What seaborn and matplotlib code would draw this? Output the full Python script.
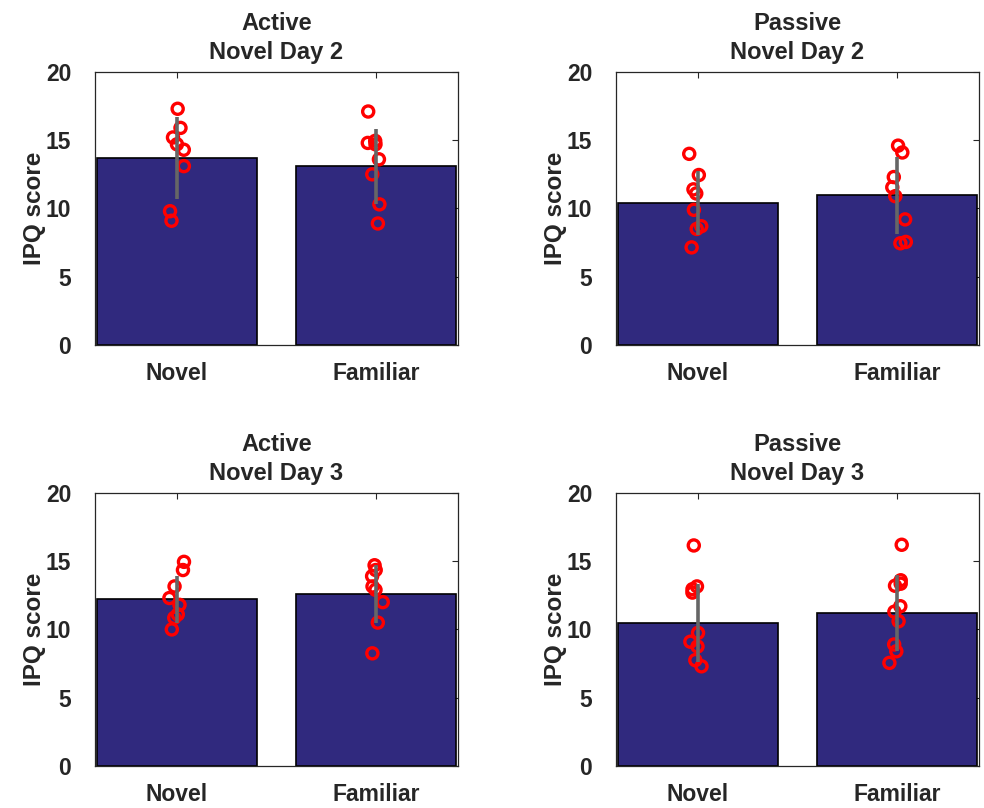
"""
IPQ scores per condition: bar = mean, grey line = SD, red circles = subjects
"""

import numpy as np
import pandas as pd
import matplotlib
matplotlib.use("Agg")
import matplotlib.pyplot as plt
import seaborn as sns

# Data
groups = ['Novel', 'Familiar']

active_day2_novel = [17.3, 15.9, 15.2, 14.7, 14.3, 13.1, 9.8, 9.1]
active_day2_familiar = [17.1, 14.95, 14.8, 14.7, 13.6, 12.5, 10.3, 8.9]
active_day2_mean = [13.7, 13.1]
active_day2_sd = [3.0, 2.75]

passive_day2_novel = [14.0, 12.45, 11.4, 11.1, 9.9, 8.7, 8.5, 7.15]
passive_day2_familiar = [14.6, 14.1, 12.3, 11.55, 10.9, 9.2, 7.55, 7.45]
passive_day2_mean = [10.4, 10.95]
passive_day2_sd = [2.35, 2.85]

active_day3_novel = [14.95, 14.35, 13.15, 12.3, 11.8, 11.1, 10.85, 10.0]
active_day3_familiar = [14.7, 14.35, 13.9, 13.15, 12.9, 12.0, 10.5, 8.25]
active_day3_mean = [12.2, 12.6]
active_day3_sd = [1.7, 2.15]

passive_day3_novel = [16.15, 13.15, 12.95, 12.7, 9.75, 9.1, 8.75, 7.75, 7.3]
passive_day3_familiar = [16.2, 13.6, 13.35, 13.2, 11.7, 11.3, 10.6, 8.9, 8.4, 7.55]
passive_day3_mean = [10.45, 11.2]
passive_day3_sd = [2.85, 2.75]

panels = [
    ('Active\nNovel Day 2', active_day2_novel, active_day2_familiar, active_day2_mean, active_day2_sd),
    ('Passive\nNovel Day 2', passive_day2_novel, passive_day2_familiar, passive_day2_mean, passive_day2_sd),
    ('Active\nNovel Day 3', active_day3_novel, active_day3_familiar, active_day3_mean, active_day3_sd),
    ('Passive\nNovel Day 3', passive_day3_novel, passive_day3_familiar, passive_day3_mean, passive_day3_sd),
]

# Style
sns.set_style("white")
plt.rcParams['font.family'] = ['Liberation Sans', 'DejaVu Sans']
plt.rcParams['font.weight'] = 'bold'
plt.rcParams['font.size'] = 16

BAR_COLOR = '#30297e'
SPINE_COLOR = '#262626'

fig = plt.figure(figsize=(9.84, 8.08), dpi=100)

# axes boxes in figure fraction: left, bottom, width, height
boxes = [
    (0.0965, 0.573, 0.369, 0.338),
    (0.626, 0.573, 0.369, 0.338),
    (0.0965, 0.052, 0.369, 0.338),
    (0.626, 0.052, 0.369, 0.338),
]

np.random.seed(3)

for box, (title, novel, familiar, means, sds) in zip(boxes, panels):
    ax = fig.add_axes(box)

    bar_df = pd.DataFrame({'Condition': groups, 'IPQ': means})
    pts_df = pd.DataFrame({
        'Condition': ['Novel'] * len(novel) + ['Familiar'] * len(familiar),
        'IPQ': novel + familiar,
    })

    sns.barplot(data=bar_df, x='Condition', y='IPQ', order=groups, color=BAR_COLOR,
                saturation=1, width=0.8, edgecolor='black', linewidth=1.2,
                errorbar=None, ax=ax)

    sns.stripplot(data=pts_df, x='Condition', y='IPQ', order=groups, jitter=0.045,
                  color='red', facecolor='none', edgecolor='red', linewidth=2.4,
                  size=8, zorder=3, ax=ax)

    # SD line drawn on top of the subject markers
    ax.errorbar(x=np.arange(len(groups)), y=means, yerr=sds, fmt='none',
                ecolor='#666666', elinewidth=2.6, capsize=0, zorder=4)

    ax.set_xlim(-0.41, 1.41)
    ax.set_ylim(0, 20)
    ax.set_yticks([0, 5, 10, 15, 20])
    ax.set_xlabel('')
    ax.set_ylabel('IPQ score', fontweight='bold', fontsize=17.5, labelpad=0)
    ax.set_title(title, fontweight='bold', fontsize=17, pad=9, linespacing=1.38)

    ax.tick_params(direction='in', length=4, width=0.8, color=SPINE_COLOR,
                   top=True, right=True, labelsize=16.5)
    ax.tick_params(axis='y', pad=17)
    ax.tick_params(axis='x', pad=12)
    for lbl in ax.get_xticklabels() + ax.get_yticklabels():
        lbl.set_fontweight('bold')
    for s in ax.spines.values():
        s.set_color(SPINE_COLOR)
        s.set_linewidth(0.9)
        s.set_visible(True)

plt.savefig('out.png', dpi=100)
plt.close()
